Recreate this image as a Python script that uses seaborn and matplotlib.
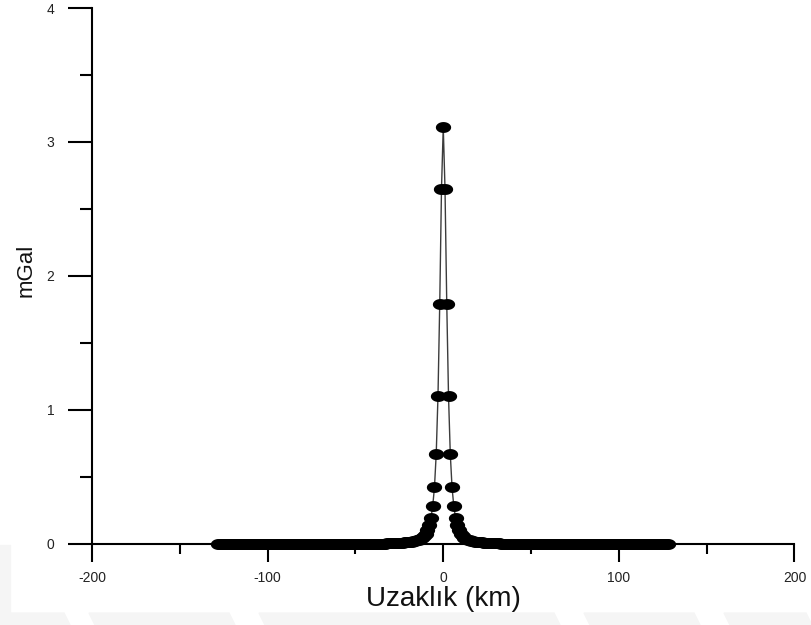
import numpy as np
import matplotlib
matplotlib.use("Agg")
import matplotlib.pyplot as plt
from matplotlib.path import Path
from matplotlib.patches import Polygon
from matplotlib.ticker import MultipleLocator
import seaborn as sns

# Profile positions (km) and gravity anomaly (mGal)
x_km = [
    -128, -127, -126, -125, -124, -123, -122, -121, -120, -119, -118, -117, -116, -115, -114, -113,
    -112, -111, -110, -109, -108, -107, -106, -105, -104, -103, -102, -101, -100, -99, -98, -97,
    -96, -95, -94, -93, -92, -91, -90, -89, -88, -87, -86, -85, -84, -83, -82, -81,
    -80, -79, -78, -77, -76, -75, -74, -73, -72, -71, -70, -69, -68, -67, -66, -65,
    -64, -63, -62, -61, -60, -59, -58, -57, -56, -55, -54, -53, -52, -51, -50, -49,
    -48, -47, -46, -45, -44, -43, -42, -41, -40, -39, -38, -37, -36, -35, -34, -33,
    -32, -31, -30, -29, -28, -27, -26, -25, -24, -23, -22, -21, -20, -19, -18, -17,
    -16, -15, -14, -13, -12, -11, -10, -9, -8, -7, -6, -5, -4, -3, -2, -1,
    0,
    1, 2, 3, 4, 5, 6, 7, 8, 9, 10, 11, 12, 13, 14, 15, 16,
    17, 18, 19, 20, 21, 22, 23, 24, 25, 26, 27, 28, 29, 30, 31, 32,
    33, 34, 35, 36, 37, 38, 39, 40, 41, 42, 43, 44, 45, 46, 47, 48,
    49, 50, 51, 52, 53, 54, 55, 56, 57, 58, 59, 60, 61, 62, 63, 64,
    65, 66, 67, 68, 69, 70, 71, 72, 73, 74, 75, 76, 77, 78, 79, 80,
    81, 82, 83, 84, 85, 86, 87, 88, 89, 90, 91, 92, 93, 94, 95, 96,
    97, 98, 99, 100, 101, 102, 103, 104, 105, 106, 107, 108, 109, 110, 111, 112,
    113, 114, 115, 116, 117, 118, 119, 120, 121, 122, 123, 124, 125, 126, 127, 128,
]

gravity_mgal = [
    0.0, 0.0, 0.0, 0.0, 0.0, 0.0, 0.0, 0.0, 0.0, 0.0, 0.0, 0.0, 0.0, 0.0, 0.0, 0.0,
    0.0, 0.0, 0.0, 0.0, 0.0, 0.0, 0.0, 0.0, 0.0, 0.0, 0.0, 0.0, 0.0, 0.0, 0.0, 0.0,
    0.0, 0.0, 0.0, 0.0, 0.0, 0.0, 0.0, 0.0, 0.0, 0.0, 0.0, 0.0, 0.0, 0.0, 0.0, 0.0,
    0.0, 0.0, 0.0, 0.0, 0.0, 0.0, 0.0, 0.0, 0.0, 0.0, 0.0, 0.0, 0.0, 0.0, 0.0, 0.0,
    0.0, 0.0, 0.0, 0.0, 0.0, 0.0, 0.0, 0.0, 0.0, 0.0, 0.0, 0.0, 0.0, 0.0, 0.0, 0.0,
    0.0, 0.0, 0.0, 0.0, 0.0, 0.0, 0.0, 0.0, 0.0, 0.0, 0.0, 0.0, 0.0, 0.0, 0.0, 0.0,
    0.003, 0.003, 0.003, 0.003, 0.004, 0.004, 0.005, 0.005, 0.006, 0.007, 0.008, 0.009, 0.010, 0.012, 0.014, 0.016,
    0.019, 0.023, 0.029, 0.035, 0.044, 0.057, 0.074, 0.098, 0.135, 0.19, 0.28, 0.42, 0.67, 1.10, 1.79, 2.65,
    3.11,
    2.65, 1.79, 1.10, 0.67, 0.42, 0.28, 0.19, 0.135, 0.098, 0.074, 0.057, 0.044, 0.035, 0.029, 0.023, 0.019,
    0.016, 0.014, 0.012, 0.010, 0.009, 0.008, 0.007, 0.006, 0.005, 0.005, 0.004, 0.004, 0.003, 0.003, 0.003, 0.003,
    0.0, 0.0, 0.0, 0.0, 0.0, 0.0, 0.0, 0.0, 0.0, 0.0, 0.0, 0.0, 0.0, 0.0, 0.0, 0.0,
    0.0, 0.0, 0.0, 0.0, 0.0, 0.0, 0.0, 0.0, 0.0, 0.0, 0.0, 0.0, 0.0, 0.0, 0.0, 0.0,
    0.0, 0.0, 0.0, 0.0, 0.0, 0.0, 0.0, 0.0, 0.0, 0.0, 0.0, 0.0, 0.0, 0.0, 0.0, 0.0,
    0.0, 0.0, 0.0, 0.0, 0.0, 0.0, 0.0, 0.0, 0.0, 0.0, 0.0, 0.0, 0.0, 0.0, 0.0, 0.0,
    0.0, 0.0, 0.0, 0.0, 0.0, 0.0, 0.0, 0.0, 0.0, 0.0, 0.0, 0.0, 0.0, 0.0, 0.0, 0.0,
    0.0, 0.0, 0.0, 0.0, 0.0, 0.0, 0.0, 0.0, 0.0, 0.0, 0.0, 0.0, 0.0, 0.0, 0.0, 0.0,
]

x_ticks = [-200, -100, 0, 100, 200]
y_ticks = [0, 1, 2, 3, 4]
x_label = "Uzaklık (km)"
y_label = "mGal"

sns.set_theme(style="ticks")
plt.rcParams["font.family"] = ["Liberation Sans", "DejaVu Sans"]
plt.rcParams["axes.unicode_minus"] = False

W, H = 812, 625
fig = plt.figure(figsize=(W / 100, H / 100), dpi=100)
fig.patch.set_facecolor("white")

# faint background band along the lower and left edges
band = "#f5f5f5"
fig.patches.append(Polygon([(0, 12 / H), (10 / W, 12 / H), (10 / W, 1 - 545 / H), (0, 1 - 545 / H)],
                           closed=True, transform=fig.transFigure, color=band, zorder=0))
for x0, x1 in [(0, 70), (95, 235), (265, 560), (590, 700), (730, 812)]:
    fig.patches.append(Polygon([(x0 / W, 0), (x1 / W, 0), ((x1 - 6) / W, 12 / H), ((x0 - 6) / W, 12 / H)],
                               closed=True, transform=fig.transFigure, color=band, zorder=0))

left, right, top, bottom = 92, 794.5, 8, 543.5
ax = fig.add_axes([left / W, 1 - bottom / H, (right - left) / W, (bottom - top) / H])
ax.set_facecolor("none")

# slightly flattened round marker
t = np.linspace(0, 2 * np.pi, 49)
ellipse = Path(np.column_stack([1.4 * np.cos(t), np.sin(t)]))

sns.lineplot(x=x_km, y=gravity_mgal, color="#3c3c3c", linewidth=1.0,
             sort=False, estimator=None, ax=ax, zorder=2)
sns.scatterplot(x=x_km, y=gravity_mgal, marker=ellipse, s=11.0 ** 2,
                color="black", edgecolor="black", linewidth=0, ax=ax,
                zorder=3, clip_on=False)

ax.set_xlim(-200, 200)
ax.set_ylim(0, 4)
ax.set_xticks(x_ticks)
ax.set_yticks(y_ticks)
ax.xaxis.set_minor_locator(MultipleLocator(50))
ax.yaxis.set_minor_locator(MultipleLocator(0.5))

for side in ["top", "right"]:
    ax.spines[side].set_visible(False)
for side in ["left", "bottom"]:
    ax.spines[side].set_linewidth(1.5)
    ax.spines[side].set_color("black")

ax.tick_params(axis="x", which="major", direction="out", bottom=True, length=13,
               width=1.5, pad=7, labelsize=10, color="black", labelcolor="#222222")
ax.tick_params(axis="x", which="minor", direction="out", bottom=True, length=7,
               width=1.5, color="black")
ax.tick_params(axis="y", which="major", direction="out", left=True, length=17,
               width=1.5, pad=10, labelsize=10, color="black", labelcolor="#222222")
ax.tick_params(axis="y", which="minor", direction="out", left=True, length=8.5,
               width=1.5, color="black")

ax.set_xlabel(x_label, fontsize=20, color="#111111")
ax.xaxis.label.set_va("center")
ax.xaxis.set_label_coords(0.5, (bottom - 599) / (bottom - top))

ax.set_ylabel(y_label, fontsize=16, color="#111111")
ax.yaxis.label.set_va("center")
ax.yaxis.set_label_coords((26 - left) / (right - left), 0.51)

fig.savefig("out.png", dpi=100, facecolor="white")
